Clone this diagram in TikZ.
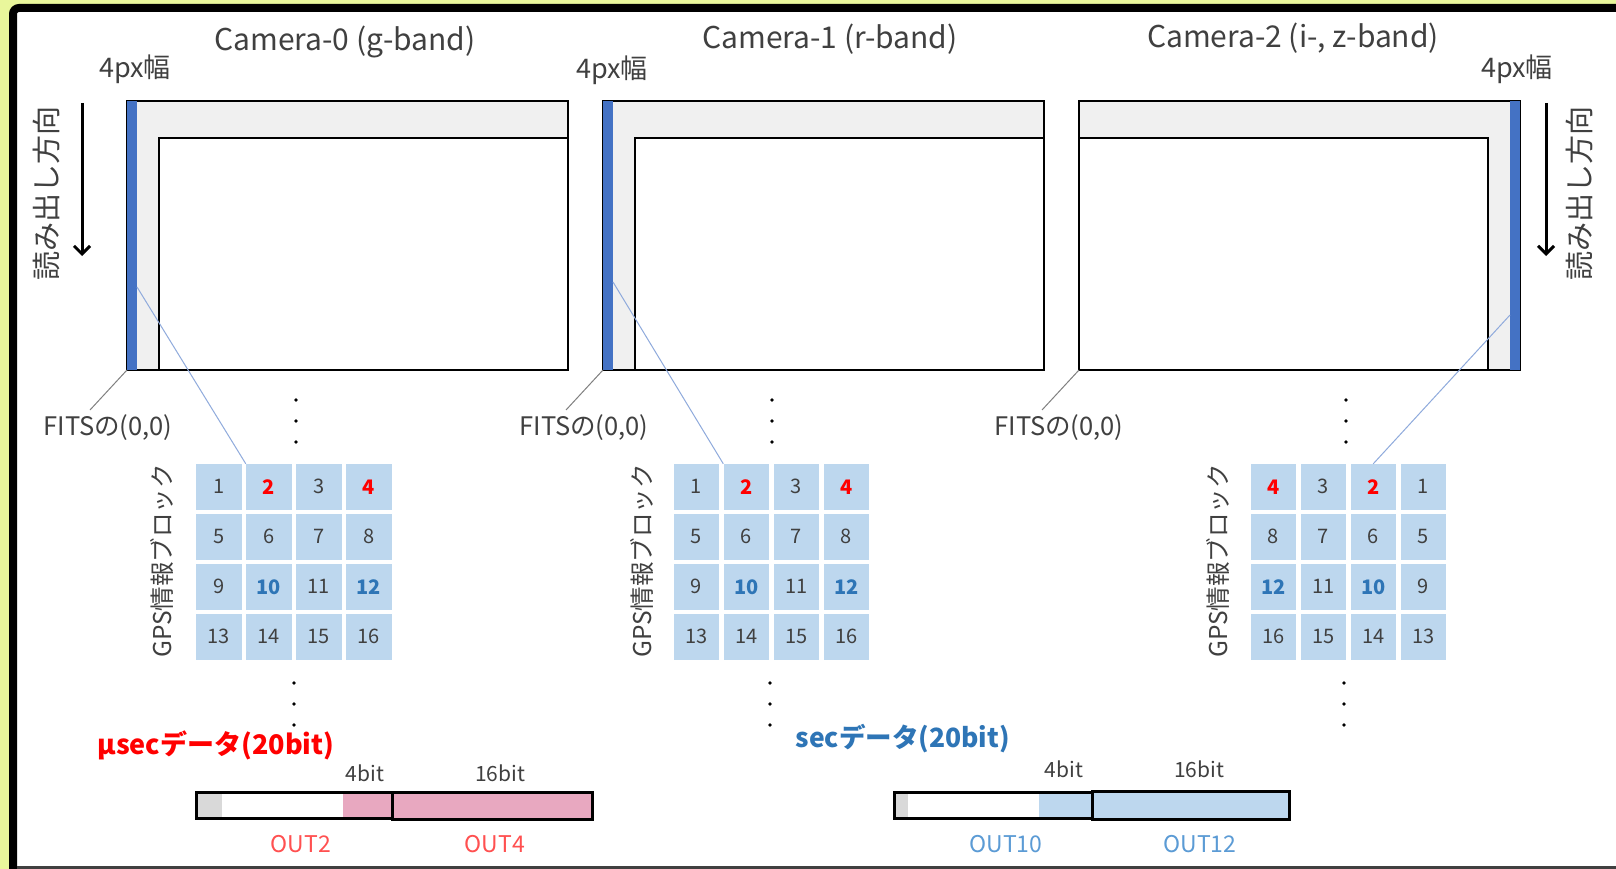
\documentclass[tikz,border=0pt]{standalone}
\usepackage{fontspec}
\setmainfont{Noto Sans CJK JP}
\usetikzlibrary{positioning}
\usetikzlibrary{calc}
\usetikzlibrary{arrows.meta}
\definecolor{bgyellow}{RGB}{233,246,155}
\definecolor{txtgray}{RGB}{64,64,64}
\definecolor{panelgray}{RGB}{240,240,240}
\definecolor{barblue}{RGB}{68,114,196}
\definecolor{cellblue}{RGB}{189,215,238}
\definecolor{leadblue}{RGB}{143,170,220}
\definecolor{numred}{RGB}{255,0,0}
\definecolor{numblue}{RGB}{46,117,182}
\definecolor{bitpink}{RGB}{232,168,192}
\definecolor{bitgray}{RGB}{217,217,217}
\definecolor{outred}{RGB}{255,80,80}
\definecolor{outblue}{RGB}{91,155,213}
\newcommand{\fsz}[1]{\fontsize{#1}{#1}\selectfont}

\begin{document}
\begin{tikzpicture}[x=1pt, y=-1pt,
    title/.style={text=txtgray, font=\fsz{30}},
    lbl/.style={text=txtgray, font=\fsz{27}},
    small/.style={text=txtgray, font=\fsz{21}},
    panel/.style={draw=black, line width=2pt, fill=panelgray},
    inner/.style={draw=black, line width=2pt, fill=white},
    cell/.style={fill=cellblue, minimum size=45.5pt, inner sep=0pt, text=txtgray, font=\fsz{20}},
    hot/.style={text=numred, font=\fsz{20}\bfseries},
    cool/.style={text=numblue, font=\fsz{20}\bfseries},
    num2/.style={hot}, num4/.style={hot}, num10/.style={cool}, num12/.style={cool},
    lead/.style={leadblue, line width=1pt},
    fitsline/.style={gray, line width=1pt},
    readarrow/.style={line width=3pt, -{Straight Barb[length=8pt,width=16pt]}},
    bitbox/.style={draw=black, line width=3pt}]

    % frame
    \useasboundingbox (0,0) rectangle (1616,869);
    \fill[bgyellow] (0,0) rectangle (1616,869);
    \fill[white] (13,8) rectangle (1616,869);
    \draw[line width=8pt, rounded corners=6pt] (13,869) -- (13,8) -- (1616,8);
    \draw[txtgray, line width=2.5pt] (17,867.5) -- (1616,867.5);

    % camera 0
    \draw[panel] (127,101) rectangle (568,370);
    \draw[inner] (159,138) rectangle (568,370);
    \fill[barblue] (127,101) rectangle (137,370);
    \node[title] (t0) at (345,42) {Camera-0 (g-band)};
    \node[lbl] (w0) at (135,69) {4px幅};

    % camera 1
    \draw[panel] (603,101) rectangle (1044,370);
    \draw[inner] (635,138) rectangle (1044,370);
    \fill[barblue] (603,101) rectangle (613,370);
    \node[title] (t1) at (830,39) {Camera-1 (r-band)};
    \node[lbl] (w1) at (612,70) {4px幅};

    % camera 2
    \draw[panel] (1079,101) rectangle (1520,370);
    \draw[inner] (1079,138) rectangle (1488,370);
    \fill[barblue] (1510,101) rectangle (1520,370);
    \node[title] (t2) at (1293,38) {Camera-2 (i-, z-band)};
    \node[lbl] (w2) at (1517,69) {4px幅};

    % read-out direction
    \node[lbl, rotate=90, font=\fsz{29}] (rd0) at (46,193) {読み出し方向};
    \node[lbl, rotate=90, font=\fsz{29}] (rd2) at (1579,193) {読み出し方向};
    \coordinate (a0s) at (82,103);
    \coordinate (a0e) at (82,256);
    \coordinate (a2s) at (1546,103);
    \coordinate (a2e) at (1546,256);
    \draw[readarrow] (a0s) -- (a0e);
    \draw[readarrow] (a2s) -- (a2e);

    % FITS origin
    \node[lbl, font=\fsz{25.5}] (f0) at (108,428) {FITSの(0,0)};
    \node[lbl, font=\fsz{25.5}] (f1) at (584,428) {FITSの(0,0)};
    \node[lbl, font=\fsz{25.5}] (f2) at (1059,428) {FITSの(0,0)};
    \coordinate (o0) at (127,370);
    \coordinate (o1) at (603,370);
    \coordinate (o2) at (1079,370);
    \coordinate (e0) at (90,410);
    \coordinate (e1) at (566,410);
    \coordinate (e2) at (1042,410);
    \draw[fitsline] (o0) -- (e0);
    \draw[fitsline] (o1) -- (e1);
    \draw[fitsline] (o2) -- (e2);

    % GPS blocks
    \foreach \gx/\g in {196/0, 673.5/1} {
        \foreach \r in {0,...,3} {
            \foreach \c in {0,...,3} {
                \pgfmathtruncatemacro\n{4*\r+\c+1}
                \node[cell, num\n/.try] (g\g-\n) at (\gx+22.75+50*\c, 486.75+50*\r) {\n};
            }
        }
    }
    \foreach \r in {0,...,3} {
        \foreach \c in {0,...,3} {
            \pgfmathtruncatemacro\n{4*\r+4-\c}
            \node[cell, num\n/.try] (g2-\n) at (1273.25+50*\c, 486.75+50*\r) {\n};
        }
    }
    \node[lbl, rotate=90, font=\fsz{24.5}] (gps0) at (162,561) {GPS情報ブロック};
    \node[lbl, rotate=90, font=\fsz{24.5}] (gps1) at (642,561) {GPS情報ブロック};
    \node[lbl, rotate=90, font=\fsz{24.5}] (gps2) at (1218,561) {GPS情報ブロック};

    \coordinate (b0) at (137,287);
    \coordinate (b1) at (613,282);
    \coordinate (b2) at (1510,315);
    \draw[lead] (b0) -- (g0-2.north west);
    \draw[lead] (b1) -- (g1-2.north west);
    \draw[lead] (b2) -- (g2-2.north);

    % dots
    \foreach \dx in {296,772,1346} {
        \foreach \dy in {400,421,442} \fill (\dx,\dy) circle (1.8);
    }
    \foreach \dx in {294,770,1344} {
        \foreach \dy in {683,704,725} \fill (\dx,\dy) circle (1.8);
    }

    % usec data
    \node[anchor=west, text=numred, font=\fsz{27}\bfseries] (us) at (94,745) {μsecデータ(20bit)};
    \fill[bitgray] (196,792.5) rectangle (221.6,818);
    \fill[bitpink] (343,792.5) rectangle (392.6,818);
    \fill[bitpink] (392.6,792.5) rectangle (592,819);
    \draw[bitbox] (196,792.5) rectangle (392.6,818);
    \draw[bitbox] (392.6,792) rectangle (592,819);
    \node[small] (us4) at (365,773) {4bit};
    \node[small] (us16) at (500,773) {16bit};
    \node[text=outred, font=\fsz{23}] (out2) at (301,844) {OUT2};
    \node[text=outred, font=\fsz{23}] (out4) at (495,844) {OUT4};

    % sec data
    \node[anchor=west, text=numblue, font=\fsz{26.5}\bfseries] (sc) at (792,739) {secデータ(20bit)};
    \fill[bitgray] (894.5,792) rectangle (908,818);
    \fill[cellblue] (1039,792) rectangle (1092.4,818);
    \fill[cellblue] (1092.4,792) rectangle (1289,819);
    \draw[bitbox] (894.5,792) rectangle (1092.4,818);
    \draw[bitbox] (1092.4,791.5) rectangle (1289,819);
    \node[small] (sc4) at (1064,769) {4bit};
    \node[small] (sc16) at (1199,769) {16bit};
    \node[text=outblue, font=\fsz{23}] (out10) at (1006,844) {OUT10};
    \node[text=outblue, font=\fsz{23}] (out12) at (1200,844) {OUT12};
\end{tikzpicture}
\end{document}
